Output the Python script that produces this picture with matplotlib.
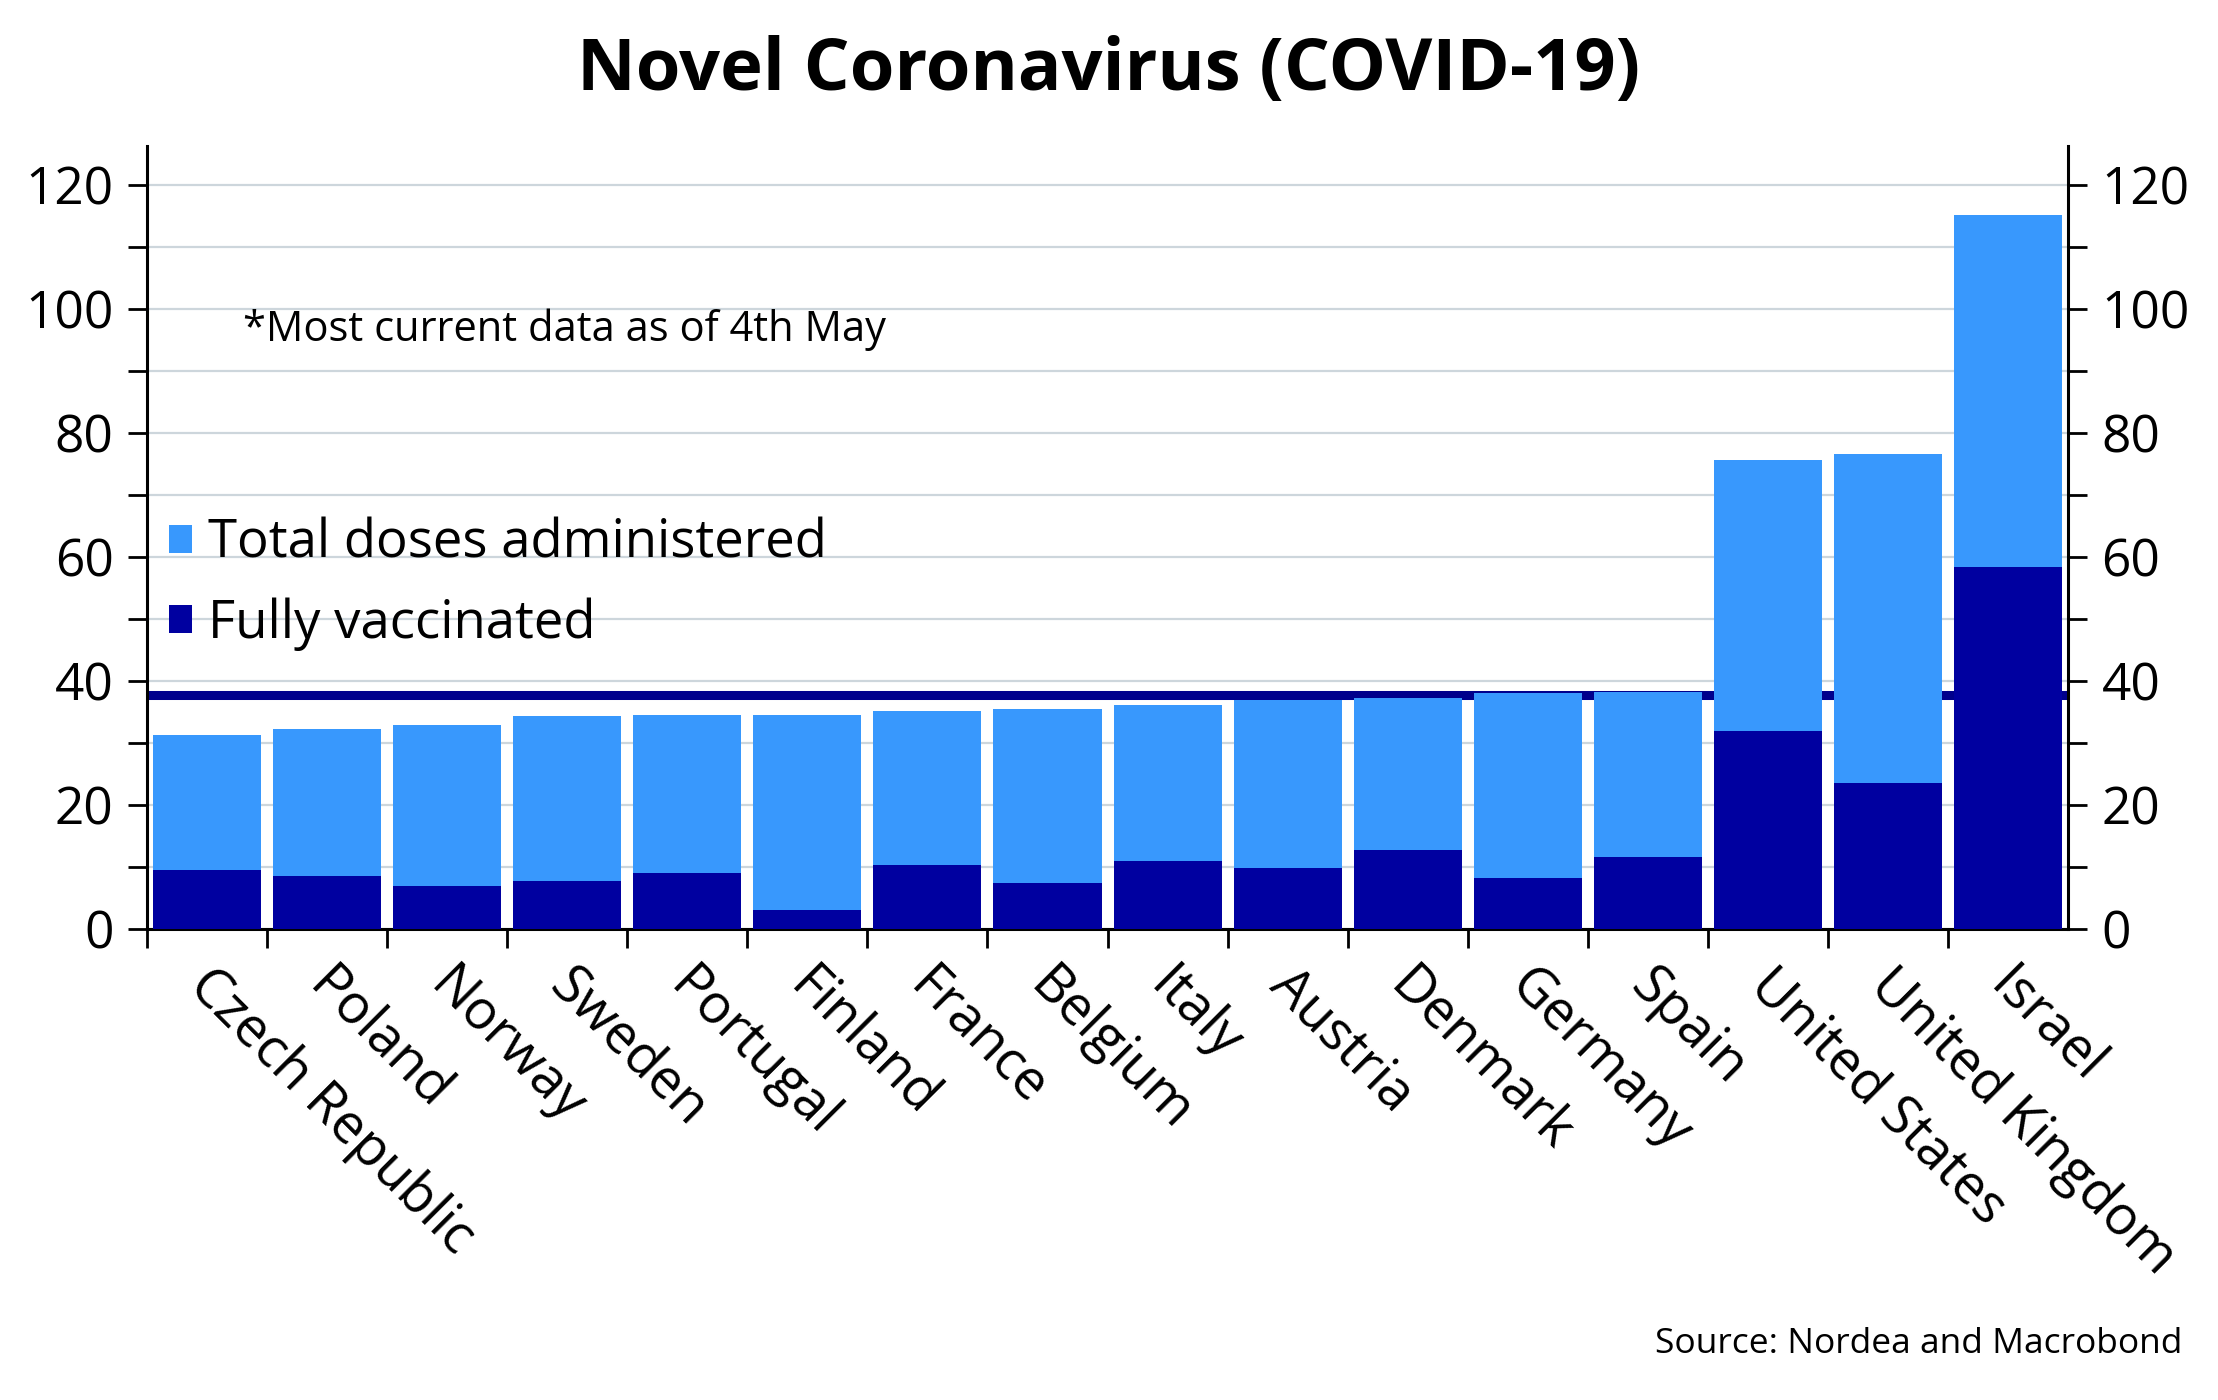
import matplotlib
matplotlib.use('Agg')
import matplotlib.pyplot as plt
import matplotlib.transforms as mtransforms
import numpy as np

plt.rcParams['font.family'] = ['Open Sans', 'DejaVu Sans']

countries = ['Czech Republic', 'Poland', 'Norway', 'Sweden', 'Portugal', 'Finland',
             'France', 'Belgium', 'Italy', 'Austria', 'Denmark', 'Germany', 'Spain',
             'United States', 'United Kingdom', 'Israel']
total_doses = [31.3, 32.3, 32.9, 34.3, 34.5, 34.6, 35.1, 35.5, 36.2, 37.0, 37.3,
               38.1, 38.2, 75.7, 76.7, 115.1]
fully_vacc = [9.6, 8.5, 7.0, 7.7, 9.1, 3.1, 10.3, 7.5, 10.9, 9.8, 12.8, 8.3, 11.6,
              31.9, 23.5, 58.4]
ref_level = 37.7

light = '#3898fd'
dark = '#0000a0'
navy = '#00008c'
grid_c = '#cdd6dc'

fig = plt.figure(figsize=(22.18, 14), dpi=100)
ax = fig.add_axes([0.0663, 0.3364, 0.8661, 0.5593])

x = np.arange(len(countries))
ax.bar(x, total_doses, width=0.9, color=light, zorder=3, label='Total doses administered')
ax.bar(x, fully_vacc, width=0.9, color=dark, zorder=4, label='Fully vaccinated')
ax.axhline(ref_level, color=navy, lw=6.5, zorder=2)

ax.set_xlim(-0.5, len(countries) - 0.5)
ax.set_ylim(0, 126.3)

ax.set_yticks(np.arange(0, 121, 20))
ax.set_yticks(np.arange(10, 121, 20), minor=True)
ax.grid(axis='y', which='both', color=grid_c, lw=1.6, zorder=0)
ax.tick_params(axis='y', which='both', direction='out', length=14, width=2,
               labelsize=37, left=True, right=True, labelleft=True, labelright=True, pad=10)

ax.set_xticks(x)
ax.set_xticks(np.arange(-0.5, len(countries) - 1, 1), minor=True)
ax.tick_params(axis='x', which='major', length=0, pad=21)
ax.tick_params(axis='x', which='minor', length=14, width=2, direction='out')
ax.set_xticklabels(countries, rotation=-45, ha='left', va='top',
                   rotation_mode='anchor', fontsize=39)
shift = mtransforms.ScaledTranslation(10 / 100, 0, fig.dpi_scale_trans)
for lab in ax.get_xticklabels():
    lab.set_transform(lab.get_transform() + shift)

for s in ['left', 'right', 'bottom']:
    ax.spines[s].set_linewidth(2.2)
ax.spines['top'].set_visible(False)

ax.text(0.05, 0.765, '*Most current data as of 4th May', transform=ax.transAxes,
        fontsize=30, va='center', ha='left')

ax.legend(loc='upper left', bbox_to_anchor=(-0.008, 0.573), frameon=False, fontsize=38,
          handlelength=0.45, handleheight=0.45, handletextpad=0.3, labelspacing=0.5,
          borderaxespad=0.3)

fig.text(0.5, 0.949, 'Novel Coronavirus (COVID-19)', ha='center', va='center',
         fontsize=52, fontweight='bold')
fig.text(0.984, 0.04, 'Source: Nordea and Macrobond', ha='right', va='center', fontsize=25.5)

fig.savefig('out.png', dpi=100)
